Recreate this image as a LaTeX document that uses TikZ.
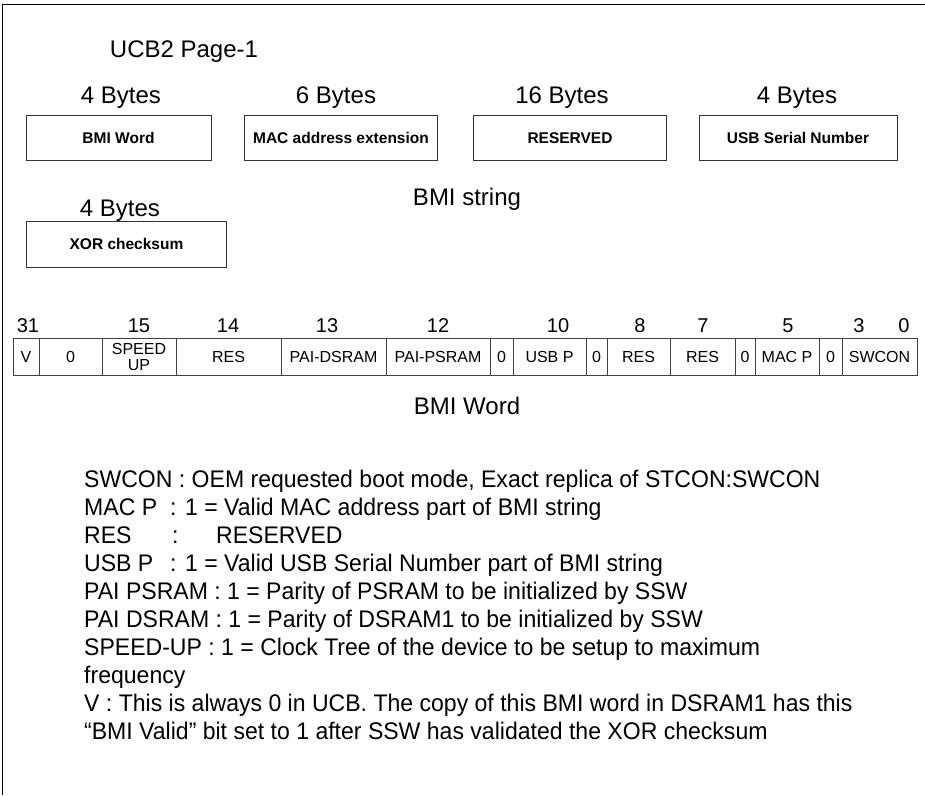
\documentclass[tikz,border=0pt]{standalone}
\usepackage{fontspec}
\setmainfont{Liberation Sans}
\newfontfamily\descfont{Liberation Sans}[FakeStretch=0.96]
\begin{document}
\begin{tikzpicture}[x=1pt,y=-1pt,
  heading/.style={font=\fontsize{24}{28}\selectfont, inner sep=0pt, anchor=base},
  bitnum/.style={font=\fontsize{20}{24}\selectfont, inner sep=0pt, anchor=base},
  fieldbox/.style={draw=black!80, line width=0.9pt, inner sep=0pt, minimum height=45pt,
    font=\bfseries\fontsize{15.5}{18}\selectfont},
  cell/.style={draw=black!75, line width=0.8pt, inner sep=0pt, minimum height=37pt,
    font=\fontsize{16}{15}\selectfont, align=center},
  desc/.style={font=\descfont\fontsize{24}{28}\selectfont, inner sep=0pt, anchor=base west},
  frame/.style={line width=1.2pt, black}]
\useasboundingbox (0,0) rectangle (925,795);
% frame (top and left only)
\coordinate (ftl) at (2.5,4.5);
\coordinate (ftr) at (925,4.5);
\coordinate (fbl) at (2.5,795);
\draw[frame] (ftr) -- (ftl) -- (fbl);

% title and byte sizes
\node[heading] (title) at (184,57) {UCB2 Page-1};
\node[heading] (sz1) at (121,103) {4 Bytes};
\node[heading] (sz2) at (336,103) {6 Bytes};
\node[heading] (sz3) at (562,103) {16 Bytes};
\node[heading] (sz4) at (797,103) {4 Bytes};

% BMI string boxes
\node[fieldbox, minimum width=185pt] (bmiw) at (118.5,138) {BMI Word};
\node[fieldbox, minimum width=193pt] (mac) at (341,138) {MAC address extension};
\node[fieldbox, minimum width=193pt] (res) at (570,138) {RESERVED};
\node[fieldbox, minimum width=198pt] (usb) at (798,138) {USB Serial Number};
\node[heading] (bmis) at (467,205) {BMI string};
\node[heading] (sz5) at (120,216) {4 Bytes};
\node[fieldbox, minimum width=200pt, minimum height=46pt] (xor) at (126.5,244) {XOR checksum};

% bit numbers
\node[bitnum] (b31) at (28,332) {31};
\node[bitnum] (b15) at (139,332) {15};
\node[bitnum] (b14) at (228,332) {14};
\node[bitnum] (b13) at (327,332) {13};
\node[bitnum] (b12) at (438,332) {12};
\node[bitnum] (b10) at (558,332) {10};
\node[bitnum] (b8) at (640,332) {8};
\node[bitnum] (b7) at (703,332) {7};
\node[bitnum] (b5) at (788,332) {5};
\node[bitnum] (b3) at (859,332) {3};
\node[bitnum] (b0) at (904,332) {0};

% register cells
\node[cell, minimum width=26pt] (cV) at (26,356.5) {V};
\node[cell, minimum width=63pt] (cz1) at (70.5,356.5) {0};
\node[cell, minimum width=74pt] (csp) at (139,356.5) {SPEED\\[1pt]UP};
\node[cell, minimum width=105pt] (cres1) at (228.5,356.5) {RES};
\node[cell, minimum width=105pt] (cpd) at (333.5,356.5) {PAI-DSRAM};
\node[cell, minimum width=104pt] (cpp) at (438,356.5) {PAI-PSRAM};
\node[cell, minimum width=23pt] (cz2) at (501.5,356.5) {0};
\node[cell, minimum width=73pt] (cusb) at (549.5,356.5) {USB P};
\node[cell, minimum width=21pt] (cz3) at (596.5,356.5) {0};
\node[cell, minimum width=63pt] (cres2) at (638.5,356.5) {RES};
\node[cell, minimum width=65pt] (cres3) at (702.5,356.5) {RES};
\node[cell, minimum width=20pt] (cz4) at (745,356.5) {0};
\node[cell, minimum width=64pt] (cmac) at (787,356.5) {MAC P};
\node[cell, minimum width=23pt] (cz5) at (830.5,356.5) {0};
\node[cell, minimum width=75pt] (csw) at (879.5,356.5) {SWCON};

\node[heading] (bmiword) at (467,414) {BMI Word};

% description
\node[desc] (d1) at (84,487) {SWCON : OEM requested boot mode, Exact replica of STCON:SWCON};
\node[desc] (d2a) at (84,515) {MAC P};
\node[desc] (d2b) at (170,515) {: 1 = Valid MAC address part of BMI string};
\node[desc] (d3a) at (84,543) {RES};
\node[desc] (d3b) at (172,543) {:};
\node[desc] (d3c) at (216,543) {RESERVED};
\node[desc] (d4a) at (84,571) {USB P};
\node[desc] (d4b) at (170,571) {: 1 = Valid USB Serial Number part of BMI string};
\node[desc] (d5) at (84,599) {PAI PSRAM : 1 = Parity of PSRAM to be initialized by SSW};
\node[desc] (d6) at (84,627) {PAI DSRAM : 1 = Parity of DSRAM1 to be initialized by SSW};
\node[desc] (d7) at (84,655) {SPEED-UP : 1 = Clock Tree of the device to be setup to maximum};
\node[desc] (d8) at (84,683) {frequency};
\node[desc] (d9) at (84,711) {V : This is always 0 in UCB. The copy of this BMI word in DSRAM1 has this};
\node[desc] (d10) at (84,739) {“BMI Valid” bit set to 1 after SSW has validated the XOR checksum};
\end{tikzpicture}
\end{document}
